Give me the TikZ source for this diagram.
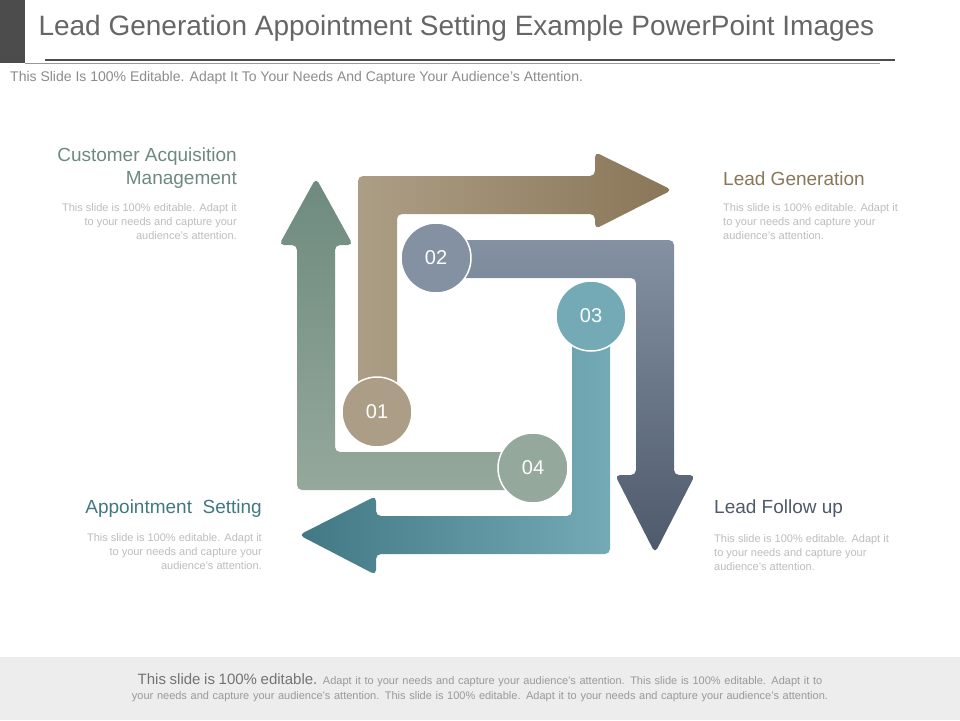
\documentclass[tikz,border=0pt]{standalone}
\usepackage{fontspec}
\setmainfont{Liberation Sans}
\definecolor{sage}{HTML}{6E8A7E}
\definecolor{sagelt}{HTML}{95A89C}
\definecolor{tan}{HTML}{AC9E86}
\definecolor{tandk}{HTML}{8A7658}
\definecolor{slate}{HTML}{8391A3}
\definecolor{slatedk}{HTML}{4E5A6B}
\definecolor{teal}{HTML}{74A9B6}
\definecolor{tealdk}{HTML}{427884}
\definecolor{desc}{HTML}{BDBDBD}
\tikzset{
  numcirc/.style={circle, minimum size=70pt, inner sep=0pt, draw=white, line width=1.5pt, text=white, font=\fontsize{20}{20}\selectfont},
  headtxt/.style={font=\fontsize{19}{23}\selectfont},
  desctxt/.style={text=desc, font=\fontsize{11}{14}\selectfont, inner sep=0pt},
}
\begin{document}
\begin{tikzpicture}[x=1pt, y=-1pt]
			\useasboundingbox (0,0) rectangle (960,720);
			\fill[white] (0,0) rectangle (960,720);
			
			% header
			\fill[black!70] (0,0) rectangle (25,63);
			\draw[black!70, line width=1.2pt] (45,60) -- (895,60);
			\draw[black!40, line width=0.5pt] (25,63.5) -- (880,63.5);
			\node[anchor=west, text=black!60, font=\fontsize{28}{30}\selectfont] (title) at (35,28) {Lead Generation Appointment Setting Example PowerPoint Images};
			\node[anchor=west, text=black!45, font=\fontsize{14}{16}\selectfont, inner sep=0pt] (subtitle) at (10,78) {This Slide Is 100\% Editable. Adapt It To Your Needs And Capture Your Audience's Attention.};
			
			% arrows
			\shade[top color=sage, bottom color=sagelt, rounded corners=5pt]
				(533,452) -- (335,452) -- (335,245) -- (353,245) -- (316,178) -- (279,245) -- (297,245) -- (297,490) -- (533,490) -- cycle;
			\shade[left color=tan, right color=tandk, rounded corners=5pt]
				(397,412) -- (397,214) -- (595,214) -- (595,229) -- (672,190) -- (595,152) -- (595,176) -- (358,176) -- (358,412) -- cycle;
			\shade[top color=slate, bottom color=slatedk, rounded corners=5pt]
				(436,240) -- (674,240) -- (674,475) -- (695,475) -- (655,553) -- (615,475) -- (636,475) -- (636,278) -- (436,278) -- cycle;
			\shade[left color=tealdk, right color=teal, rounded corners=5pt]
				(610,316) -- (610,554) -- (376,554) -- (376,575) -- (299,535) -- (376,496) -- (376,516) -- (572,516) -- (572,316) -- cycle;
			
			% step circles
			\node[numcirc, fill=tan] (n01) at (377,412) {01};
			\node[numcirc, fill=slate] (n02) at (436,258) {02};
			\node[numcirc, fill=teal] (n03) at (591,316) {03};
			\node[numcirc, fill=sagelt] (n04) at (533,468) {04};
			
			% labels
			\node[headtxt, anchor=north east, align=right, text=sage, inner sep=0pt] (cam) at (237,148) {Customer Acquisition\\Management};
			\node[desctxt, anchor=north east, align=right] (camdesc) at (237,203) {This slide is 100\% editable. Adapt it\\to your needs and capture your\\audience's attention.};
			\node[headtxt, anchor=west, text=tandk, inner sep=0pt] (lg) at (723,179) {Lead Generation};
			\node[desctxt, anchor=north west, align=left] (lgdesc) at (723,203) {This slide is 100\% editable. Adapt it\\to your needs and capture your\\audience's attention.};
			\node[headtxt, anchor=west, text=slatedk, inner sep=0pt] (lf) at (714,509) {Lead Follow up};
			\node[desctxt, anchor=north west, align=left] (lfdesc) at (714,534) {This slide is 100\% editable. Adapt it\\to your needs and capture your\\audience's attention.};
			\node[headtxt, anchor=east, text=tealdk, inner sep=0pt] (as) at (262,509) {Appointment\ \ Setting};
			\node[desctxt, anchor=north east, align=right] (asdesc) at (262,533) {This slide is 100\% editable. Adapt it\\to your needs and capture your\\audience's attention.};
			
			% footer
			\fill[black!7] (0,657) rectangle (960,720);
			\node[text=black!40, align=center, text width=890pt, inner sep=0pt, font=\fontsize{11}{15}\selectfont] (footer) at (480,688) {{\fontsize{15}{15}\selectfont\color{black!55}This slide is 100\% editable.} Adapt it to your needs and capture your audience's attention. This slide is 100\% editable. Adapt it to your needs and capture your audience's attention. This slide is 100\% editable. Adapt it to your needs and capture your audience's attention.};
		\end{tikzpicture}
\end{document}
